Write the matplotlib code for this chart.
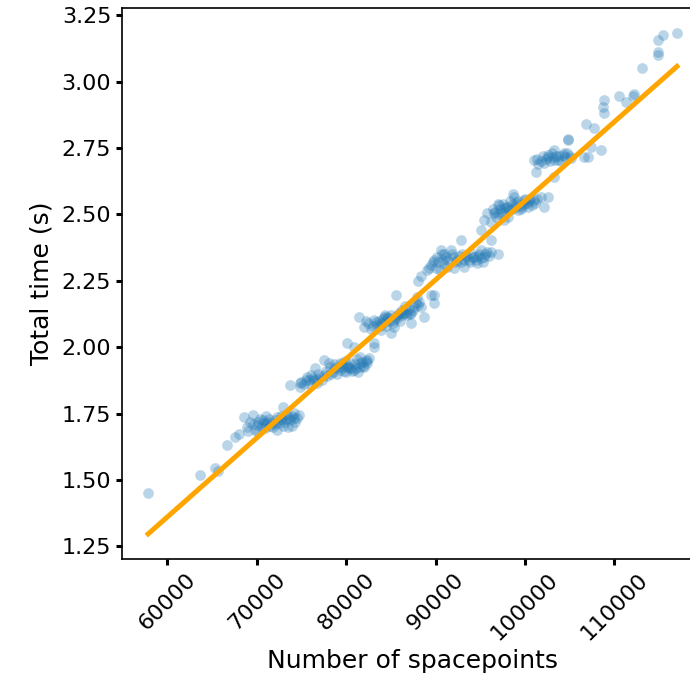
import numpy as np
import matplotlib
matplotlib.use("Agg")
import matplotlib.pyplot as plt

# spacepoints vs total time
n_spacepoints = [
    57870, 63670, 65350, 65700, 66660, 67590, 68000,
    # ~1.7 s group
    68550, 69640, 68900, 70020, 70760, 71880, 72260, 73380, 74130, 73000, 74500,
    69300, 69800, 70400, 70900, 71200, 71500, 72000, 72500, 72800, 73100, 73600,
    73900, 74300, 74700, 71000, 72300, 70200, 69000, 73500, 74000,
    69600, 70100, 70600, 71100, 71700, 72100, 72600, 72900, 73300, 73700, 74200,
    70700, 71400, 72700,
    # ~1.9 s group
    73760, 74880, 75630, 76370, 77120, 77490, 78240, 79360, 80110, 80850, 81600,
    82350, 80850, 80110, 81600, 82350, 79360, 83090,
    75000, 75300, 75900, 76100, 76700, 76900, 77300, 77700, 77900, 78500, 78800,
    79000, 79700, 80000, 80400, 80600, 81000, 81300, 81800, 82000, 82600, 81200,
    79900, 78100, 76500, 81410, 83090,
    74800, 75500, 76000, 76300, 76800, 77500, 78300, 78700, 79200, 79500, 80200,
    80700, 81100, 81500, 81900, 82200, 80300, 79800,
    # ~2.1 s group
    81970, 83090, 84210, 85340, 86460, 87580, 83850, 84970, 84600, 86090, 87960,
    88700, 89820, 85540, 89820, 85340, 87210, 89450,
    82500, 82800, 83400, 83700, 84000, 84500, 84800, 85000, 85700, 86000, 86300,
    86800, 87000, 87300, 87800, 88200, 88400, 86600, 85900, 84300, 82200,
    83000, 83300, 83800, 84100, 84700, 85200, 85500, 86200, 86700, 87100, 87500,
    88000, 85800, 84400,
    # ~2.3 s group
    89080, 89820, 90570, 91690, 92800, 91330, 93180, 94300, 95050, 93180, 94680,
    95430, 96930, 96180, 95050, 88000, 88400,
    89500, 90000, 90200, 90800, 91000, 91400, 92000, 92300, 92600, 93000, 93500,
    93800, 94000, 94500, 94900, 95300, 95700, 96000, 92100, 90500,
    89300, 89700, 90300, 90700, 91200, 91800, 92400, 92900, 93300, 93700, 94200,
    94700, 95100, 95500, 96200, 90900,
    # ~2.5 s group
    95430, 95800, 96930, 98050, 98790, 99910, 99170, 100290, 101030, 101780,
    102530, 102150, 98050, 98610, 96550, 96180,
    96400, 96800, 97200, 97500, 97800, 98300, 98500, 99000, 99400, 99700, 100000,
    100500, 100800, 101300, 97000, 97600,
    96600, 97100, 97400, 97900, 98200, 98700, 99200, 99500, 99900, 100200, 100600,
    101100, 97700, 98900,
    # ~2.7 s group
    101030, 101220, 102530, 103270, 104390, 103270, 105150, 107020, 108510,
    104770, 107390, 103650, 106640, 103270, 101500, 102000, 102800, 103000,
    103800, 104000, 104500, 101800,
    101300, 102300, 102600, 103100, 103500, 104200, 104700, 105000, 102100,
    # upper tail
    106830, 107760, 108880, 108700, 108880, 110560, 112050, 111310, 113110,
    114870, 114870, 114870, 115430, 116990, 112240, 104770,
]
total_time = [
    1.452, 1.519, 1.544, 1.535, 1.632, 1.663, 1.675,
    1.738, 1.745, 1.701, 1.707, 1.714, 1.701, 1.738, 1.745, 1.751, 1.776, 1.732,
    1.72, 1.69, 1.73, 1.695, 1.72, 1.705, 1.725, 1.715, 1.73, 1.72, 1.735,
    1.74, 1.72, 1.745, 1.74, 1.69, 1.68, 1.685, 1.70, 1.705,
    1.71, 1.72, 1.70, 1.71, 1.715, 1.71, 1.725, 1.705, 1.73, 1.725, 1.735,
    1.725, 1.73, 1.74,
    1.858, 1.851, 1.889, 1.876, 1.889, 1.952, 1.927, 1.939, 1.927, 1.914, 1.927,
    1.952, 2.002, 2.015, 1.964, 1.939, 1.914, 2.002,
    1.87, 1.86, 1.875, 1.895, 1.88, 1.90, 1.875, 1.91, 1.89, 1.905, 1.92,
    1.90, 1.925, 1.905, 1.94, 1.92, 1.935, 1.905, 1.945, 1.925, 1.96, 1.955,
    1.95, 1.94, 1.92, 2.115, 2.015,
    1.865, 1.875, 1.86, 1.885, 1.865, 1.895, 1.90, 1.935, 1.925, 1.935, 1.93,
    1.91, 1.92, 1.94, 1.93, 1.95, 1.92, 1.91,
    2.077, 2.102, 2.115, 2.102, 2.128, 2.152, 2.065, 2.052, 2.115, 2.128, 2.190,
    2.115, 2.165, 2.196, 2.196, 2.077, 2.090, 2.196,
    2.09, 2.07, 2.085, 2.10, 2.09, 2.08, 2.10, 2.12, 2.11, 2.10, 2.14,
    2.12, 2.145, 2.13, 2.165, 2.17, 2.15, 2.155, 2.13, 2.12, 2.10,
    2.08, 2.095, 2.08, 2.105, 2.11, 2.09, 2.115, 2.12, 2.13, 2.125, 2.14,
    2.16, 2.12, 2.095,
    2.290, 2.328, 2.366, 2.366, 2.403, 2.303, 2.328, 2.341, 2.366, 2.303, 2.316,
    2.341, 2.353, 2.403, 2.441, 2.25, 2.27,
    2.31, 2.30, 2.34, 2.33, 2.35, 2.33, 2.34, 2.32, 2.345, 2.35, 2.34,
    2.32, 2.355, 2.33, 2.35, 2.32, 2.36, 2.345, 2.30, 2.29,
    2.30, 2.32, 2.32, 2.35, 2.34, 2.35, 2.33, 2.32, 2.345, 2.33, 2.34,
    2.345, 2.335, 2.35, 2.36, 2.315,
    2.479, 2.504, 2.541, 2.529, 2.566, 2.554, 2.516, 2.529, 2.554, 2.566,
    2.566, 2.529, 2.491, 2.579, 2.504, 2.472,
    2.52, 2.49, 2.52, 2.54, 2.51, 2.55, 2.52, 2.545, 2.535, 2.53, 2.56,
    2.55, 2.535, 2.56, 2.50, 2.48,
    2.51, 2.535, 2.505, 2.53, 2.515, 2.54, 2.55, 2.52, 2.54, 2.545, 2.56,
    2.545, 2.525, 2.53,
    2.704, 2.66, 2.717, 2.704, 2.73, 2.641, 2.711, 2.717, 2.742,
    2.780, 2.755, 2.704, 2.717, 2.742, 2.69, 2.72, 2.70, 2.73,
    2.72, 2.70, 2.715, 2.70,
    2.71, 2.71, 2.725, 2.715, 2.72, 2.725, 2.73, 2.72, 2.695,
    2.840, 2.824, 2.930, 2.905, 2.882, 2.947, 2.947, 2.924, 3.052,
    3.112, 3.100, 3.156, 3.175, 3.185, 2.955, 2.786,
]

# linear fit
fit_slope = 2.978e-5
fit_intercept = -0.4264

x = np.array(n_spacepoints)
y = np.array(total_time)

fig = plt.figure(figsize=(6.9, 6.85), dpi=100)
ax = fig.add_axes([0.1764, 0.184, 0.843, 0.805])

ax.scatter(x, y, s=60, color='#1f77b4', alpha=0.3, linewidths=0)
xs = np.sort(x)
ax.plot(xs, fit_intercept + fit_slope * xs, color='orange', lw=3.6)

ax.set_xlabel('Number of spacepoints', fontsize=18)
ax.set_ylabel('Total time (s)', fontsize=18, labelpad=6)
ax.set_yticks([1.25, 1.5, 1.75, 2.0, 2.25, 2.5, 2.75, 3.0, 3.25])
ax.set_xticks([60000, 70000, 80000, 90000, 100000, 110000])
ax.tick_params(labelsize=16, length=4, width=2.2)
plt.setp(ax.get_xticklabels(), rotation=45)
for sp in ax.spines.values():
    sp.set_linewidth(1.2)

fig.savefig('out.png', dpi=100)
